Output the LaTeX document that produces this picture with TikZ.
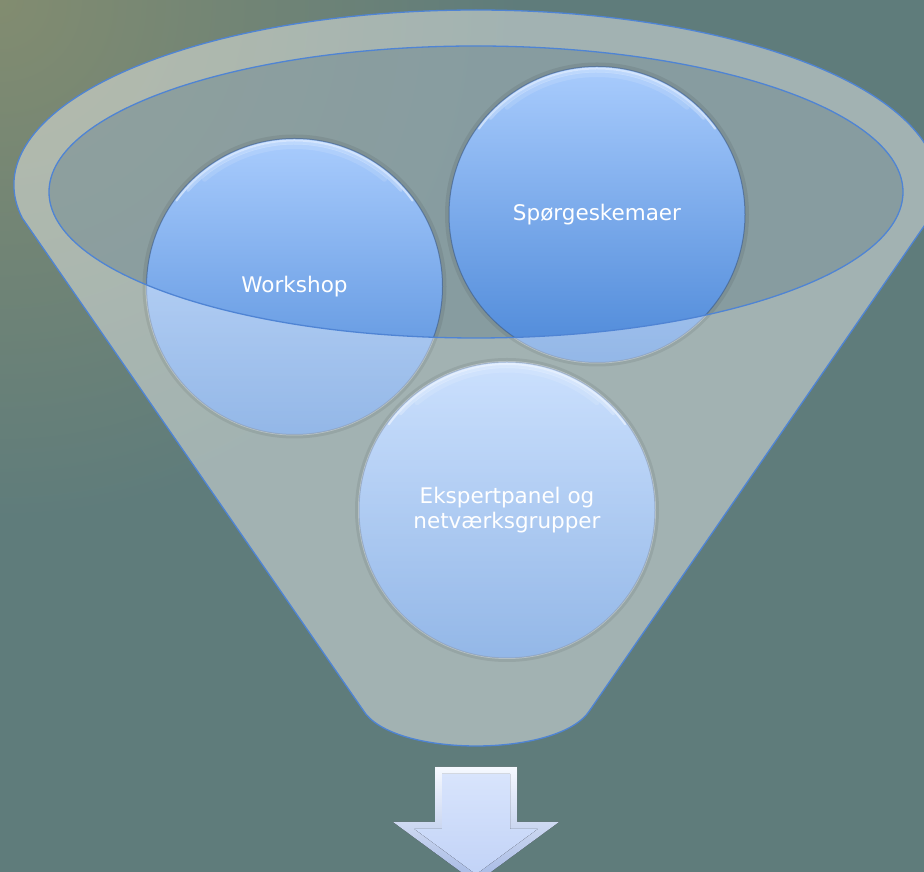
\documentclass[tikz,border=0pt]{standalone}
\usepackage{fontspec}
\setmainfont{DejaVu Sans}
\usepackage{tikz}

\definecolor{bgteal}{HTML}{5F7C7B}
\definecolor{bgolive}{HTML}{828C70}
\definecolor{rimline}{HTML}{4F84D4}
\definecolor{mouth}{HTML}{6D8790}
\definecolor{balltop}{HTML}{A9CCFD}
\definecolor{ballbot}{HTML}{4C88D8}
\definecolor{ballrim}{HTML}{3C5A86}
\definecolor{arrowlt}{HTML}{F6F9FF}
\definecolor{arrowdk}{HTML}{A3B7E3}
\definecolor{facetop}{HTML}{D8E4FC}
\definecolor{facebot}{HTML}{C2D3F7}

\newcommand{\funnelshape}{(22.3,653.9) arc[start angle=190.9, end angle=-10.9, x radius=462, y radius=175]
    -- (590,162) .. controls (560,114) and (392,114) .. (363,162) -- cycle}
\newcommand{\mouthshape}{(476,680) ellipse[x radius=427, y radius=146]}

\begin{document}
\begin{tikzpicture}[x=1pt,y=1pt,
    ball/.style={circle, minimum size=296pt, inner sep=0pt, top color=balltop, bottom color=ballbot,
        draw=ballrim, draw opacity=0.6, line width=1pt, text=white, align=center,
        font=\fontsize{21.5}{25}\selectfont},
    rim/.style={draw=rimline, line width=1.3pt},
    shine/.style={white, line cap=round}]
    \useasboundingbox (0,0) rectangle (924,872);
    \clip (0,0) rectangle (924,872);
    \fill[bgteal] (0,0) rectangle (924,872);
    \shade[inner color=bgolive, outer color=bgteal] (0,872) circle[radius=520];

    % funnel body and mouth
    \fill[white, opacity=0.42] \funnelshape;
    \fill[mouth, opacity=0.5] \mouthshape;

    % the three balls
    \fill[black, opacity=0.07] (294.5,585.5) circle[radius=152] (597,657.5) circle[radius=152] (507,362) circle[radius=152];
    \node[ball] (workshop) at (294.5,585.5) {Workshop};
    \node[ball] (skema) at (597,657.5) {Spørgeskemaer};
    \node[ball] (panel) at (507,362) {Ekspertpanel og\\netværksgrupper};
    \foreach \b in {workshop,skema,panel} {
        \draw[shine, line width=5pt, opacity=0.12] ([shift={(50:140)}]\b.center) arc[start angle=50, end angle=130, radius=140];
        \draw[shine, line width=3pt, opacity=0.25] ([shift={(42:143.5)}]\b.center) arc[start angle=42, end angle=138, radius=143.5];
        \draw[shine, line width=2pt, opacity=0.5] ([shift={(36:146)}]\b.center) arc[start angle=36, end angle=144, radius=146];
    }

    % funnel wall in front of the balls
    \begin{scope}[even odd rule]
        \clip \funnelshape \mouthshape;
        \fill[white, opacity=0.4] (workshop.center) circle[radius=149] (skema.center) circle[radius=149] (panel.center) circle[radius=149];
    \end{scope}
    \draw[rim] \funnelshape;
    \draw[rim] \mouthshape;

    % arrow out of the funnel
    \fill[top color=arrowlt, bottom color=arrowdk] (435,105) -- (517,105) -- (517,50) -- (559,50) -- (476,-11) -- (393,50) -- (435,50) -- cycle;
    \fill[top color=facetop, bottom color=facebot] (442,98) -- (510,98) -- (510,43) -- (537.6,43) -- (476,-2.3) -- (414.4,43) -- (442,43) -- cycle;
\end{tikzpicture}
\end{document}
